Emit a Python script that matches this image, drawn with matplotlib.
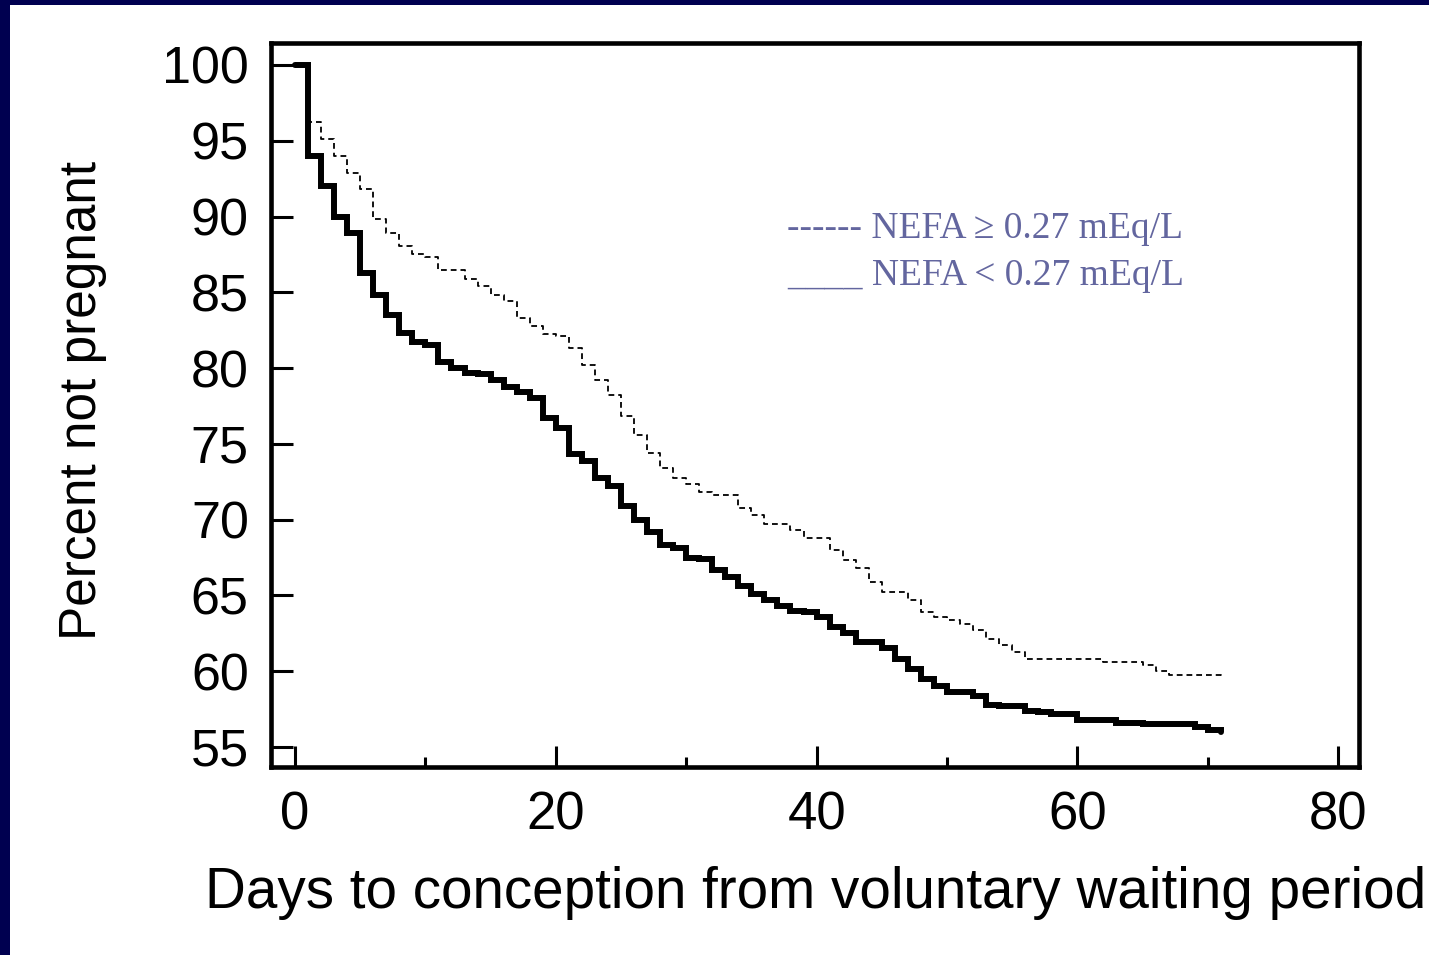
import matplotlib
matplotlib.use("Agg")
import matplotlib.pyplot as plt
from matplotlib.patches import Rectangle

# ---------------- data ----------------
# NEFA < 0.27 mEq/L (solid thick line), Kaplan-Meier style steps
days_low = [0, 1, 2, 3, 4, 5, 6, 7, 8, 9, 10, 11, 12, 13, 14, 15, 16, 17, 18, 19,
            20, 21, 22, 23, 24, 25, 26, 27, 28, 29, 30, 31, 32, 33, 34, 35, 36, 37,
            38, 39, 40, 41, 42, 43, 45, 46, 47, 48, 49, 50, 52, 53, 54, 56, 57, 58,
            60, 63, 65, 69, 70, 71]
pct_low = [100, 94.0, 92.0, 90.0, 88.9, 86.3, 84.8, 83.5, 82.3, 81.75, 81.5, 80.4,
           80.0, 79.7, 79.6, 79.2, 78.75, 78.4, 78.0, 76.7, 76.05, 74.3, 73.9, 72.75,
           72.2, 70.9, 70.0, 69.2, 68.3, 68.1, 67.5, 67.4, 66.7, 66.2, 65.65, 65.1,
           64.7, 64.3, 64.0, 63.9, 63.6, 62.9, 62.5, 61.9, 61.5, 60.8, 60.15, 59.5,
           59.0, 58.6, 58.35, 57.8, 57.7, 57.4, 57.3, 57.2, 56.8, 56.6, 56.5, 56.3,
           56.1, 56.0]

# NEFA >= 0.27 mEq/L (dashed thin line)
days_high = [0, 1, 2, 3, 4, 5, 6, 7, 8, 9, 10, 11, 13, 14, 15, 16, 17, 18, 19, 20,
             21, 22, 23, 24, 25, 26, 27, 28, 29, 30, 31, 32, 34, 35, 36, 38, 39, 41,
             42, 43, 44, 45, 47, 48, 49, 50, 51, 52, 53, 54, 55, 56, 62, 65, 66, 67,
             71]
pct_high = [100, 96.25, 95.1, 94.0, 92.9, 91.8, 89.85, 88.9, 88.05, 87.5, 87.3, 86.5,
            85.9, 85.4, 84.8, 84.4, 83.3, 82.8, 82.25, 82.1, 81.3, 80.2, 79.2, 78.2,
            76.85, 75.6, 74.4, 73.4, 72.75, 72.35, 71.8, 71.6, 70.8, 70.3, 69.7, 69.3,
            68.8, 68.0, 67.35, 66.8, 65.9, 65.2, 64.7, 63.9, 63.6, 63.35, 63.1, 62.7,
            62.1, 61.7, 61.25, 60.8, 60.6, 60.4, 60.0, 59.75, 59.5]

x_major = [0, 20, 40, 60, 80]
x_minor = [10, 30, 50, 70]
y_ticks = [55, 60, 65, 70, 75, 80, 85, 90, 95, 100]

xlabel = "Days to conception from voluntary waiting period"
ylabel = "Percent not pregnant"
legend_high = "------ NEFA \u2265 0.27 mEq/L"
legend_low = "____ NEFA < 0.27 mEq/L"

# ---------------- figure ----------------
W, H = 1429, 955
fig = plt.figure(figsize=(W / 100, H / 100), dpi=100)
fig.patch.set_facecolor("white")

navy = "#000050"
fig.patches.append(Rectangle((0, 0), 10 / W, 1, transform=fig.transFigure,
                             facecolor=navy, edgecolor="none", zorder=10))
fig.patches.append(Rectangle((0, 1 - 5 / H), 1, 5 / H, transform=fig.transFigure,
                             facecolor=navy, edgecolor="none", zorder=10))

left, right, top, bottom = 271, 1359, 43, 767
ax = fig.add_axes([left / W, 1 - bottom / H, (right - left) / W, (bottom - top) / H])

ax.step(days_high, pct_high, where="post", color="black", lw=1.3,
        linestyle=(0, (3.2, 2.2)))
ax.step(days_low, pct_low, where="post", color="black", lw=4.3,
        solid_capstyle="round", solid_joinstyle="miter")

ax.set_xlim(-1.84, 81.6)
ax.set_ylim(53.68, 101.45)

for s in ax.spines.values():
    s.set_linewidth(3.3)
    s.set_color("black")

ax.set_xticks(x_major)
ax.set_xticks(x_minor, minor=True)
ax.set_yticks(y_ticks)

tick_font = "Liberation Sans"
ax.tick_params(axis="y", which="major", direction="in", length=16, width=2.2,
               pad=16, labelsize=37.5, left=True, right=False)
ax.tick_params(axis="x", which="major", direction="in", length=15, width=2.2,
               pad=17, labelsize=38, bottom=True, top=False)
ax.tick_params(axis="x", which="minor", direction="in", length=7.5, width=2.2,
               bottom=True, top=False)
for lab in ax.get_xticklabels() + ax.get_yticklabels():
    lab.set_fontfamily(tick_font)

fig.text(205 / W, 1 - 908 / H, xlabel, fontsize=40.8, family=tick_font,
         ha="left", va="baseline")
fig.text(83 / W, 1 - 400 / H, ylabel, fontsize=37, family=tick_font,
         rotation=90, ha="center", va="center")

leg_color = "#63669f"
fig.text(787 / W, 1 - 238 / H, legend_high, fontsize=27,
         family=["Liberation Serif", "DejaVu Serif"], color=leg_color,
         ha="left", va="baseline")
fig.text(787 / W, 1 - 285 / H, legend_low, fontsize=27,
         family=["Liberation Serif", "DejaVu Serif"], color=leg_color,
         ha="left", va="baseline")

fig.savefig("out.png", dpi=100, facecolor="white")
